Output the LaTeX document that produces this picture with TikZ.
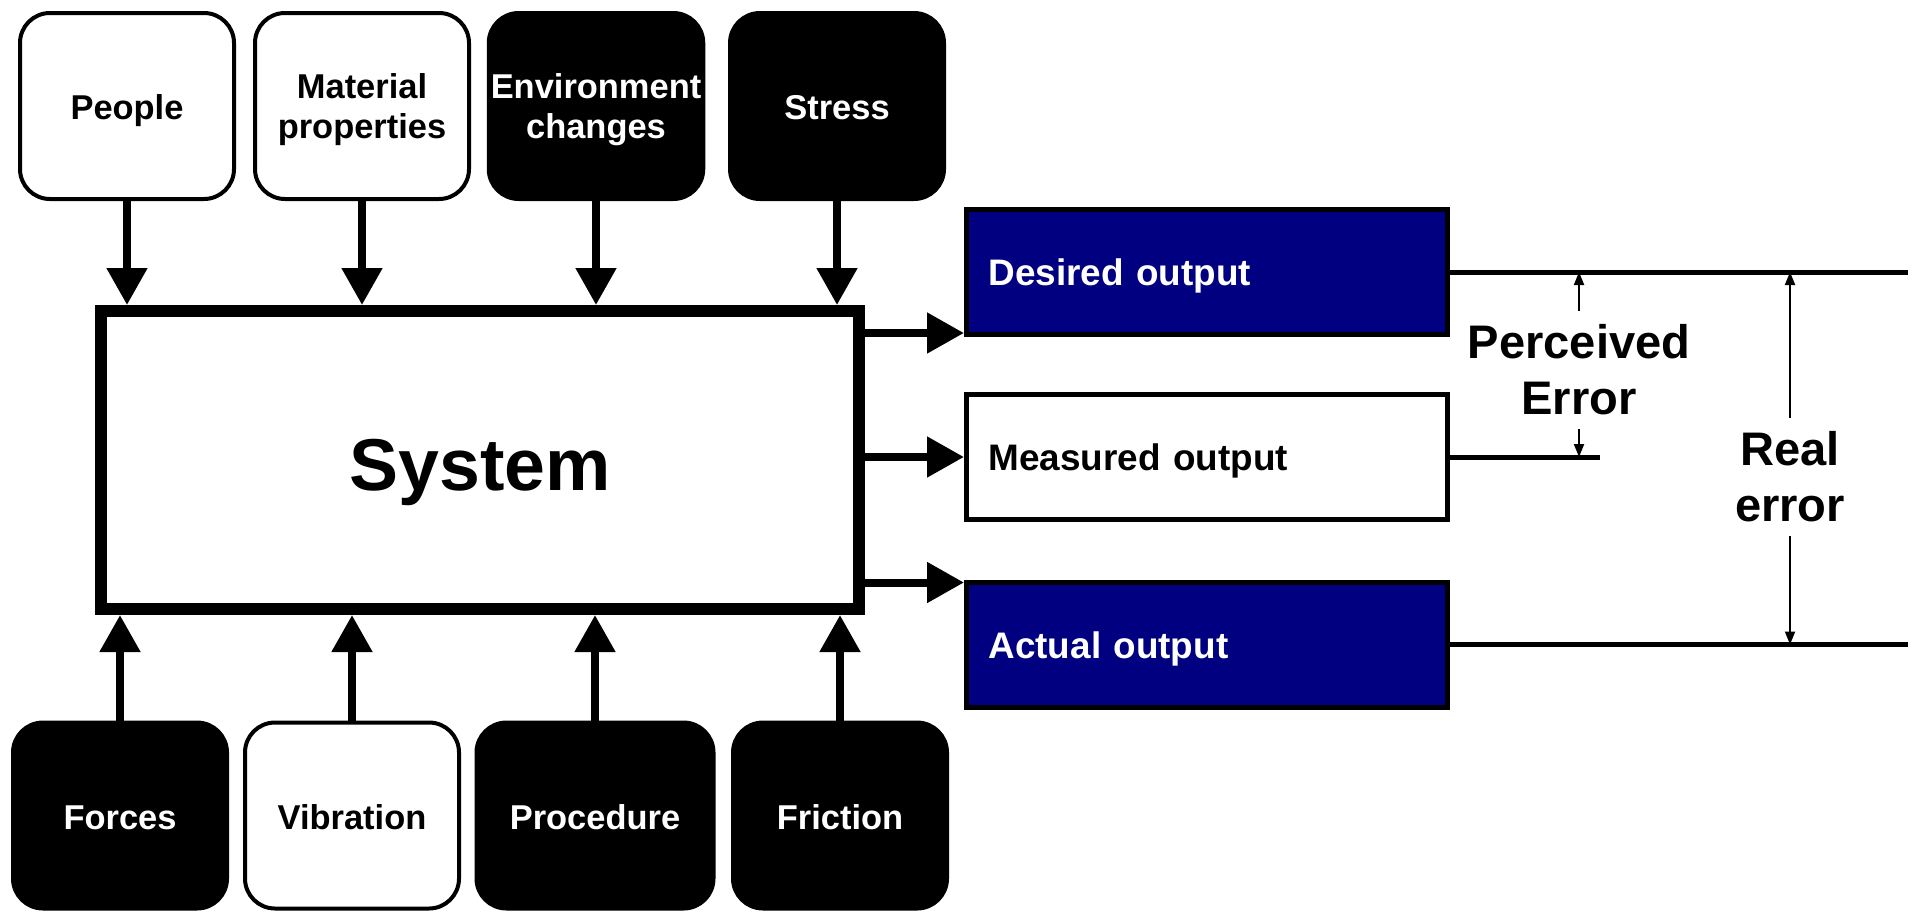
\documentclass[tikz,border=0pt]{standalone}
\usepackage{fontspec}
\setmainfont{Liberation Sans}
\usetikzlibrary{arrows.meta,positioning,calc}
\definecolor{navyout}{RGB}{0,0,128}

\tikzset{
  factor/.style={rectangle, rounded corners=0.3cm, draw=black, line width=0.04cm,
    minimum width=2.14cm, minimum height=1.86cm, inner xsep=0.02cm, align=center,
    text height=8.8pt, text depth=1pt,
    font=\fontsize{9.8}{11.2}\selectfont\bfseries},
  twolines/.style={text height=19.3pt, text depth=1pt},
  lightfactor/.style={factor, fill=white, text=black},
  darkfactor/.style={factor, fill=black, text=white},
  outbox/.style={rectangle, draw=black, line width=0.05cm, minimum width=4.81cm,
    minimum height=1.25cm, text width=4.37cm, inner xsep=0.22cm, align=left,
    text height=8.8pt, text depth=1pt,
    font=\fontsize{10.5}{12}\selectfont\bfseries},
  bigarrow/.style={line width=0.08cm, -{Triangle[length=0.37cm,width=0.39cm]}},
  thinarrow/.style={line width=0.02cm, -{Triangle[length=0.13cm,width=0.1cm]}},
  errlabel/.style={align=center, inner sep=0.13cm,
    font=\fontsize{13.4}{16}\selectfont\bfseries},
  refline/.style={line width=0.05cm}
}

\begin{document}
\begin{tikzpicture}
  \useasboundingbox (0,0) rectangle (19.15,-9.12);

  % the system
  \node[draw, line width=0.12cm, minimum width=7.58cm, minimum height=2.98cm,
    text height=17.3pt, text depth=0pt, font=\fontsize{20.9}{24}\selectfont\bfseries] (system) at (4.80,-4.60) {System};

  % influences from above
  \node[lightfactor] (people) at (1.27,-1.06) {People};
  \node[lightfactor, twolines] (material) at (3.62,-1.06) {Material\\properties};
  \node[darkfactor, twolines] (environment) at (5.96,-1.06) {Environment\\changes};
  \node[darkfactor] (stress) at (8.37,-1.06) {Stress};

  % influences from below
  \node[darkfactor] (forces) at (1.20,-8.155) {Forces};
  \node[lightfactor] (vibration) at (3.52,-8.155) {Vibration};
  \node[darkfactor, minimum width=2.37cm] (procedure) at (5.95,-8.155) {Procedure};
  \node[darkfactor] (friction) at (8.40,-8.155) {Friction};

  \draw[bigarrow] (people.south) -- (people.south |- system.north);
  \draw[bigarrow] (material.south) -- (material.south |- system.north);
  \draw[bigarrow] (environment.south) -- (environment.south |- system.north);
  \draw[bigarrow] (stress.south) -- (stress.south |- system.north);
  \draw[bigarrow] (forces.north) -- (forces.north |- system.south);
  \draw[bigarrow] (vibration.north) -- (vibration.north |- system.south);
  \draw[bigarrow] (procedure.north) -- (procedure.north |- system.south);
  \draw[bigarrow] (friction.north) -- (friction.north |- system.south);

  % outputs
  \node[outbox, fill=navyout, text=white] (desired) at (12.07,-2.72) {Desired output};
  \node[outbox, fill=white] (measured) at (12.07,-4.57) {Measured output};
  \node[outbox, fill=navyout, text=white] (actual) at (12.07,-6.445) {Actual output};

  \coordinate (desired in) at ([yshift=0.04cm]desired.south west);
  \coordinate (actual in) at ([yshift=-0.03cm]actual.north west);
  \draw[bigarrow] (system.east |- desired in) -- (desired in);
  \draw[bigarrow] (system.east |- measured.west) -- (measured.west);
  \draw[bigarrow] (system.east |- actual in) -- (actual in);

  % errors
  \coordinate (desired end) at (19.08,-2.72);
  \coordinate (measured end) at (16.00,-4.57);
  \coordinate (actual end) at (19.08,-6.445);
  \draw[refline] (desired.east) -- (desired end);
  \draw[refline] (measured.east) -- (measured end);
  \draw[refline] (actual.east) -- (actual end);

  \node[errlabel] (perceived) at (15.79,-3.70) {Perceived\\Error};
  \draw[thinarrow] (perceived.north) -- (perceived.north |- desired.east);
  \draw[thinarrow] (perceived.south) -- (perceived.south |- measured.east);

  \node[errlabel] (real) at (17.90,-4.77) {Real\\error};
  \draw[thinarrow] (real.north) -- (real.north |- desired.east);
  \draw[thinarrow] (real.south) -- (real.south |- actual.east);
\end{tikzpicture}
\end{document}
